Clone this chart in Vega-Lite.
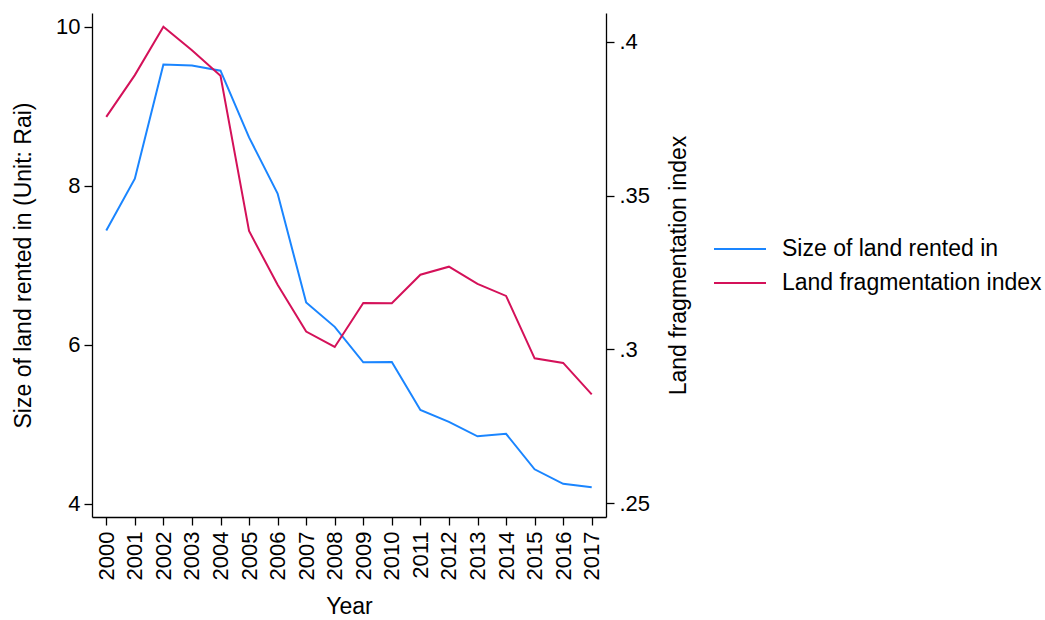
{
  "$schema": "https://vega.github.io/schema/vega-lite/v6.json",
  "width": 514,
  "height": 504,
  "autosize": {"type": "none"},
  "padding": {"left": 92, "top": 13, "right": 439, "bottom": 103},
  "background": "white",
  "config": {
    "view": {"stroke": null},
    "font": "Liberation Sans"
  },
  "data": {
    "values": [
      {"year": 2000, "series": "Size of land rented in", "value": 7.44},
      {"year": 2001, "series": "Size of land rented in", "value": 8.09},
      {"year": 2002, "series": "Size of land rented in", "value": 9.527},
      {"year": 2003, "series": "Size of land rented in", "value": 9.514},
      {"year": 2004, "series": "Size of land rented in", "value": 9.45},
      {"year": 2005, "series": "Size of land rented in", "value": 8.61},
      {"year": 2006, "series": "Size of land rented in", "value": 7.904},
      {"year": 2007, "series": "Size of land rented in", "value": 6.533},
      {"year": 2008, "series": "Size of land rented in", "value": 6.226},
      {"year": 2009, "series": "Size of land rented in", "value": 5.78},
      {"year": 2010, "series": "Size of land rented in", "value": 5.785},
      {"year": 2011, "series": "Size of land rented in", "value": 5.18},
      {"year": 2012, "series": "Size of land rented in", "value": 5.03},
      {"year": 2013, "series": "Size of land rented in", "value": 4.848},
      {"year": 2014, "series": "Size of land rented in", "value": 4.88},
      {"year": 2015, "series": "Size of land rented in", "value": 4.433},
      {"year": 2016, "series": "Size of land rented in", "value": 4.25},
      {"year": 2017, "series": "Size of land rented in", "value": 4.206},
      {"year": 2000, "series": "Land fragmentation index", "value": 0.3756},
      {"year": 2001, "series": "Land fragmentation index", "value": 0.3892},
      {"year": 2002, "series": "Land fragmentation index", "value": 0.4049},
      {"year": 2003, "series": "Land fragmentation index", "value": 0.3973},
      {"year": 2004, "series": "Land fragmentation index", "value": 0.389},
      {"year": 2005, "series": "Land fragmentation index", "value": 0.3385},
      {"year": 2006, "series": "Land fragmentation index", "value": 0.321},
      {"year": 2007, "series": "Land fragmentation index", "value": 0.3058},
      {"year": 2008, "series": "Land fragmentation index", "value": 0.3008},
      {"year": 2009, "series": "Land fragmentation index", "value": 0.3151},
      {"year": 2010, "series": "Land fragmentation index", "value": 0.315},
      {"year": 2011, "series": "Land fragmentation index", "value": 0.3243},
      {"year": 2012, "series": "Land fragmentation index", "value": 0.3269},
      {"year": 2013, "series": "Land fragmentation index", "value": 0.3213},
      {"year": 2014, "series": "Land fragmentation index", "value": 0.3174},
      {"year": 2015, "series": "Land fragmentation index", "value": 0.2971},
      {"year": 2016, "series": "Land fragmentation index", "value": 0.2956},
      {"year": 2017, "series": "Land fragmentation index", "value": 0.2854}
    ]
  },
  "encoding": {
    "x": {
      "field": "year",
      "type": "quantitative",
      "scale": {"domain": [1999.5, 2017.5], "nice": false, "zero": false},
      "axis": {
        "title": "Year",
        "values": [2000, 2001, 2002, 2003, 2004, 2005, 2006, 2007, 2008, 2009, 2010, 2011, 2012, 2013, 2014, 2015, 2016, 2017],
        "format": "d",
        "grid": false,
        "domainColor": "black",
        "tickColor": "black",
        "labelColor": "black",
        "titleColor": "black",
        "labelFont": "Liberation Sans",
        "titleFont": "Liberation Sans",
        "labelFontSize": 22,
        "titleFontSize": 23,
        "titleFontWeight": "normal",
        "tickSize": 8,
        "domainWidth": 1.3,
        "tickWidth": 1.3,
        "labelAngle": -90,
        "labelAlign": "right",
        "labelBaseline": "middle",
        "labelPadding": 6,
        "titlePadding": 16,
        "labelOverlap": false,
        "labelFlush": false
      }
    },
    "color": {
      "field": "series",
      "type": "nominal",
      "scale": {
        "domain": ["Size of land rented in", "Land fragmentation index"],
        "range": ["#1a85ff", "#d41159"]
      },
      "legend": {
        "title": null,
        "orient": "none",
        "legendX": 621,
        "legendY": 220,
        "symbolType": "stroke",
        "symbolSize": 2704,
        "symbolStrokeWidth": 2,
        "labelFontSize": 23,
        "labelFont": "Liberation Sans",
        "labelColor": "black",
        "labelOffset": 15,
        "labelLimit": 500,
        "clipHeight": 32,
        "rowPadding": 2
      }
    }
  },
  "layer": [
    {
      "transform": [{"filter": "datum.series === 'Size of land rented in'"}],
      "mark": {"type": "line", "strokeWidth": 2},
      "encoding": {
        "y": {
          "field": "value",
          "type": "quantitative",
          "scale": {"domain": [3.833, 10.176], "nice": false, "zero": false},
          "axis": {
            "orient": "left",
            "title": "Size of land rented in (Unit: Rai)",
            "values": [4, 6, 8, 10],
            "format": "d",
            "grid": false,
            "domainColor": "black",
            "tickColor": "black",
            "labelColor": "black",
            "titleColor": "black",
            "labelFont": "Liberation Sans",
            "titleFont": "Liberation Sans",
            "labelFontSize": 22,
            "titleFontSize": 23,
            "titleFontWeight": "normal",
            "tickSize": 8,
            "domainWidth": 1.3,
            "tickWidth": 1.3,
            "labelPadding": 4,
            "titlePadding": 20
          }
        }
      }
    },
    {
      "transform": [{"filter": "datum.series === 'Land fragmentation index'"}],
      "mark": {"type": "line", "strokeWidth": 2},
      "encoding": {
        "y": {
          "field": "value",
          "type": "quantitative",
          "scale": {"domain": [0.2455, 0.4094], "nice": false, "zero": false},
          "axis": {
            "orient": "right",
            "title": "Land fragmentation index",
            "values": [0.25, 0.3, 0.35, 0.4],
            "labelExpr": "slice(format(datum.value, '.2~f'), 1)",
            "grid": false,
            "domainColor": "black",
            "tickColor": "black",
            "labelColor": "black",
            "titleColor": "black",
            "labelFont": "Liberation Sans",
            "titleFont": "Liberation Sans",
            "labelFontSize": 22,
            "titleFontSize": 23,
            "titleFontWeight": "normal",
            "tickSize": 8,
            "domainWidth": 1.3,
            "tickWidth": 1.3,
            "labelPadding": 5,
            "titleAngle": -90,
            "titlePadding": 41
          }
        }
      }
    }
  ],
  "resolve": {"scale": {"y": "independent"}}
}
